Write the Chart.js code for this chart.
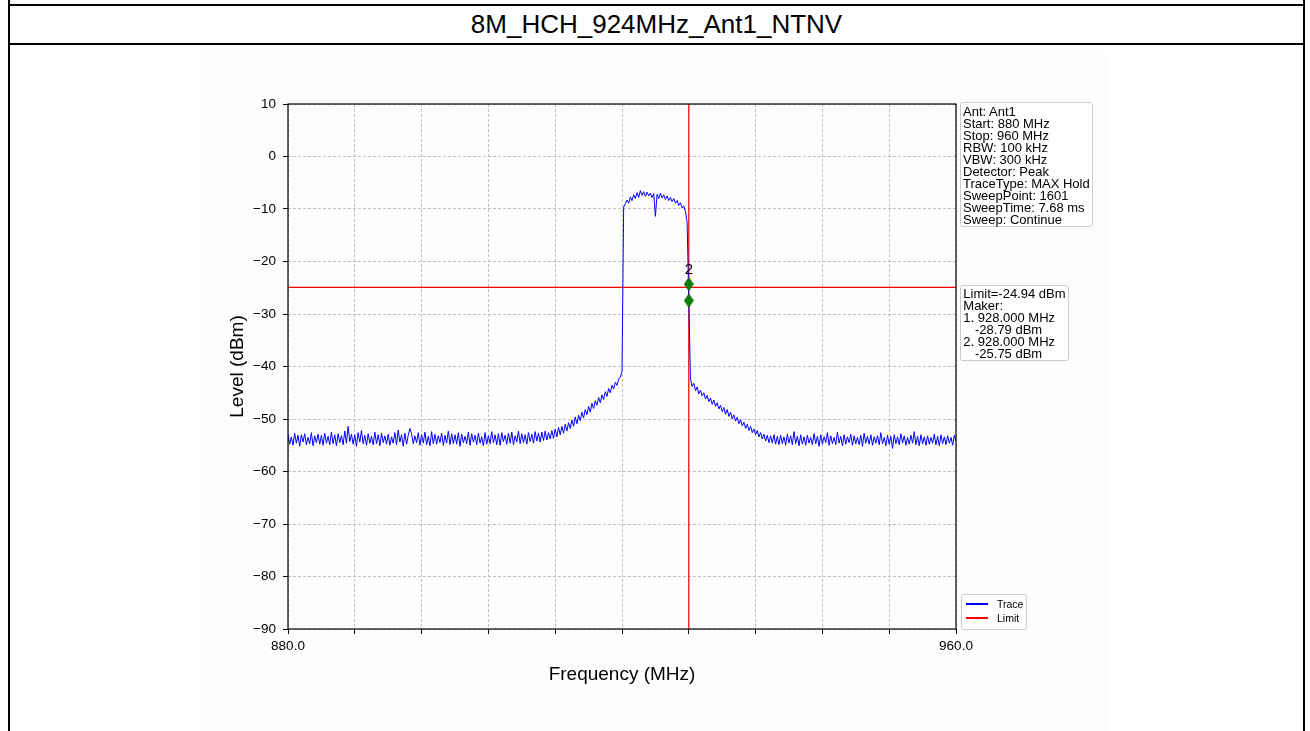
<!DOCTYPE html>
<html><head><meta charset="utf-8">
<script src="https://cdn.jsdelivr.net/npm/chart.js@4/dist/chart.umd.min.js"></script>
<style>
html,body{margin:0;padding:0;background:#fff;width:1310px;height:731px;overflow:hidden;font-family:"Liberation Sans",Arial,sans-serif;}
.hl{position:absolute;left:8px;width:1297px;height:2px;background:#000;}
.vl{position:absolute;top:0;width:2px;height:731px;background:#000;}
#title{position:absolute;left:10px;width:1293px;top:6px;height:37px;line-height:37px;text-align:center;font-size:26px;color:#000;}
#fig{position:absolute;left:202px;top:50px;width:906px;height:681px;background:#fdfdfd;}
#cv{position:absolute;left:202px;top:50px;}
.box{position:absolute;box-sizing:border-box;border:1px solid #cccccc;border-radius:3px;background:#fff;font-size:13px;line-height:12px;color:#000;white-space:pre;}
.ind{padding-left:11.7px;}
.lg{position:absolute;height:1.4px;width:22px;}
.lt{position:absolute;font-size:10.5px;line-height:14px;}
</style></head><body>
<div class="hl" style="top:4px"></div>
<div class="hl" style="top:43px"></div>
<div class="vl" style="left:8px"></div>
<div class="vl" style="left:1303px"></div>
<div id="title">8M_HCH_924MHz_Ant1_NTNV</div>
<div id="fig"></div>
<canvas id="cv" width="906" height="681"></canvas>
<div class="box" style="left:960px;top:102px;width:133px;height:125px;padding:3px 0 0 2px;">Ant: Ant1
Start: 880 MHz
Stop: 960 MHz
RBW: 100 kHz
VBW: 300 kHz
Detector: Peak
TraceType: MAX Hold
SweepPoint: 1601
SweepTime: 7.68 ms
Sweep: Continue</div>
<div class="box" style="left:960px;top:285px;width:109px;height:76px;padding:1.8px 0 0 2.3px;"><div>Limit=-24.94 dBm</div><div>Maker:</div><div>1. 928.000 MHz</div><div class="ind">-28.79 dBm</div><div>2. 928.000 MHz</div><div class="ind">-25.75 dBm</div></div>
<div class="box" style="left:961px;top:594px;width:66px;height:36px;">
  <div class="lg" style="left:4px;top:8.3px;background:#0000ff"></div>
  <div class="lt" style="left:35px;top:2px">Trace</div>
  <div class="lg" style="left:4px;top:22.3px;background:#ff0000"></div>
  <div class="lt" style="left:35px;top:16px">Limit</div>
</div>
<script>
// ---- data ----
const startMHz = 880, stopMHz = 960, stepMHz = 0.2;
const traceLevels = [
-52.9,-54.8,-53.4,-55.0,-52.7,-54.6,-53.1,-55.2,-53.0,-54.4,
-52.8,-54.9,-53.5,-54.7,-52.6,-55.1,-53.2,-54.5,-52.9,-54.8,
-53.1,-55.0,-52.7,-54.6,-53.3,-54.9,-52.5,-54.7,-53.0,-55.1,
-52.8,-54.5,-53.2,-54.9,-52.3,-54.6,-51.4,-54.3,-52.9,-54.8,
-53.0,-55.2,-52.6,-54.4,-52.2,-54.7,-53.1,-55.0,-52.8,-54.6,
-53.3,-54.9,-52.5,-54.7,-53.0,-55.1,-52.7,-54.5,-53.2,-54.8,
-52.9,-55.0,-53.4,-54.6,-52.6,-54.9,-52.1,-54.4,-53.0,-55.2,
-52.7,-54.8,-53.1,-51.8,-52.8,-54.7,-53.2,-54.5,-52.6,-55.0,
-53.0,-54.6,-52.5,-54.9,-53.3,-55.1,-52.4,-54.7,-52.9,-54.8,
-53.2,-54.5,-52.7,-55.0,-53.1,-54.6,-52.3,-54.9,-52.8,-54.7,
-53.0,-54.8,-52.6,-55.2,-52.9,-54.5,-53.3,-54.7,-52.5,-55.0,
-52.8,-54.4,-53.1,-54.9,-52.7,-54.6,-53.4,-55.1,-52.6,-54.8,
-53.2,-54.7,-52.4,-54.5,-53.0,-54.9,-52.8,-55.0,-52.6,-54.3,
-53.1,-54.8,-52.7,-54.6,-52.5,-54.9,-53.2,-54.4,-52.3,-54.7,
-52.8,-54.5,-53.0,-54.8,-52.6,-54.3,-52.9,-54.6,-52.4,-54.2,
-52.7,-54.4,-52.5,-54.1,-52.3,-54.0,-52.6,-53.8,-52.2,-53.7,
-51.9,-53.4,-51.6,-53.0,-51.4,-52.7,-51.0,-52.3,-50.7,-51.8,
-50.2,-51.4,-49.6,-50.9,-49.3,-50.3,-48.7,-49.8,-48.2,-49.2,
-47.6,-48.7,-47.0,-48.0,-46.5,-47.4,-45.9,-46.9,-45.4,-46.3,
-44.8,-45.7,-44.2,-45.0,-43.6,-44.3,-43.0,-43.6,-42.4,-42.0,
-41.0,-9.6,-9.0,-8.3,-8.9,-7.7,-8.4,-7.3,-8.0,-6.9,
-7.8,-6.5,-7.4,-6.7,-7.6,-6.8,-7.5,-7.0,-7.8,-7.1,
-11.4,-7.2,-8.0,-7.0,-7.9,-7.3,-8.2,-7.5,-8.4,-7.8,
-8.6,-8.0,-8.9,-8.4,-9.3,-8.8,-9.8,-9.4,-10.5,-12.5,
-27.5,-42.4,-43.8,-43.2,-44.6,-43.9,-45.2,-44.5,-45.6,-45.0,
-46.2,-45.5,-46.7,-46.0,-47.2,-46.4,-47.6,-46.9,-48.1,-47.4,
-48.6,-47.8,-49.1,-48.2,-49.5,-48.7,-50.0,-49.2,-50.4,-49.7,
-50.9,-50.1,-51.3,-50.6,-51.8,-51.0,-52.2,-51.4,-52.6,-51.9,
-53.0,-52.2,-53.4,-52.6,-53.8,-52.9,-54.2,-53.1,-54.5,-53.2,
-54.6,-53.0,-54.8,-53.3,-54.9,-53.1,-54.7,-53.4,-55.0,-52.9,
-54.6,-53.2,-54.9,-52.4,-54.7,-53.3,-55.1,-53.0,-54.8,-53.4,
-55.0,-53.1,-54.6,-53.5,-54.9,-52.8,-54.7,-53.3,-55.2,-53.0,
-54.8,-53.4,-54.5,-52.6,-55.0,-53.2,-54.7,-53.5,-54.9,-52.5,
-54.6,-53.3,-55.1,-53.0,-54.8,-53.4,-54.5,-52.9,-55.0,-53.2,
-54.7,-53.5,-54.9,-53.1,-55.2,-52.7,-54.6,-53.3,-54.8,-53.0,
-55.0,-53.4,-54.6,-53.2,-54.9,-52.6,-54.7,-53.5,-55.1,-53.1,
-54.8,-53.3,-55.6,-53.0,-54.7,-53.4,-54.9,-52.8,-54.6,-53.2,
-55.0,-53.5,-54.8,-53.1,-54.6,-52.4,-54.9,-53.3,-55.1,-53.0,
-54.7,-53.4,-55.0,-53.2,-54.8,-53.5,-54.6,-52.9,-54.9,-53.3,
-55.1,-53.0,-54.7,-53.4,-54.9,-53.2,-54.6,-53.5,-55.0,-53.1,
-54.2
];
const limitLevel = -24.94;
const markerFreqs = [928.0, 928.0];
const markerLevels = [-24.3, -27.45];
const markerLabels = ['2', ''];
const cursorFreq = 928.0;
const yMin = -90, yMax = 10;
const xTickValues = [880, 888, 896, 904, 912, 920, 928, 936, 944, 952, 960];
const xTickLabels = ['880.0', '', '', '', '', '', '', '', '', '', '960.0'];
const yTickValues = [-90, -80, -70, -60, -50, -40, -30, -20, -10, 0, 10];
const yTickLabels = ['\u221290', '\u221280', '\u221270', '\u221260', '\u221250', '\u221240', '\u221230', '\u221220', '\u221210', '0', '10'];

// ---- chart ----
const FONT = '"Liberation Sans", Arial, sans-serif';
const traceFreqs = traceLevels.map((_, i) => startMHz + i * stepMHz);

const diamond = document.createElement('canvas');
diamond.width = 10; diamond.height = 14;
(function(){const d = diamond.getContext('2d'); d.fillStyle = '#0a7d0a'; d.strokeStyle = '#066306'; d.lineWidth = 0.8; d.beginPath();
 d.moveTo(5, 0.5); d.lineTo(9.5, 7); d.lineTo(5, 13.5); d.lineTo(0.5, 7); d.closePath(); d.fill(); d.stroke();})();

const framePlugin = {
  id: 'frame',
  afterDatasetsDraw(chart) {
    const {ctx, chartArea: a} = chart;
    ctx.save();
    ctx.strokeStyle = '#000'; ctx.lineWidth = 1.2;
    ctx.strokeRect(a.left, a.top, a.right - a.left, a.bottom - a.top);
    const meta = chart.getDatasetMeta(0);
    ctx.fillStyle = '#000'; ctx.font = '15px ' + FONT;
    ctx.textAlign = 'center'; ctx.textBaseline = 'middle';
    meta.data.forEach((pt, i) => { if (markerLabels[i]) ctx.fillText(markerLabels[i], pt.x, pt.y - 14); });
    ctx.restore();
  }
};

const gridCommon = {color: '#b0b0b0', lineWidth: 0.8, tickLength: 5, tickColor: '#000', tickWidth: 1};

new Chart(document.getElementById('cv'), {
  type: 'line',
  data: {
    datasets: [
      {label: 'Marker', data: markerFreqs.map((f, i) => ({x: f, y: markerLevels[i]})), showLine: false,
       pointStyle: diamond, pointRadius: 7, borderWidth: 0},
      {label: 'Trace', data: traceFreqs.map((f, i) => ({x: f, y: traceLevels[i]})), borderColor: '#0000ff',
       borderWidth: 1, pointRadius: 0, tension: 0},
      {label: 'Limit', data: [{x: startMHz, y: limitLevel}, {x: stopMHz, y: limitLevel}], borderColor: '#ff0000',
       borderWidth: 1.2, pointRadius: 0},
      {label: 'Cursor', data: [{x: cursorFreq, y: yMin}, {x: cursorFreq, y: yMax}], borderColor: '#ff0000',
       borderWidth: 1.2, pointRadius: 0}
    ]
  },
  options: {
    responsive: false, animation: false, devicePixelRatio: 1,
    layout: {padding: {left: 20, top: 54, right: 152, bottom: 42}},
    plugins: {legend: {display: false}, tooltip: {enabled: false}},
    scales: {
      x: {
        type: 'linear', min: startMHz, max: stopMHz,
        afterBuildTicks: s => { s.ticks = xTickValues.map(v => ({value: v})); },
        afterFit: s => { s.height = 60; s.paddingLeft = 0; s.paddingRight = 0; },
        ticks: {callback: (v, i) => xTickLabels[i], color: '#000', font: {size: 13.5, family: FONT}, padding: 4, maxRotation: 0, autoSkip: false},
        grid: gridCommon,
        border: {display: false, dash: [3, 2]},
        title: {display: true, text: 'Frequency (MHz)', color: '#000', font: {size: 19, family: FONT}, padding: {top: 0, bottom: 3}}
      },
      y: {
        type: 'linear', min: yMin, max: yMax,
        afterBuildTicks: s => { s.ticks = yTickValues.map(v => ({value: v})); },
        afterFit: s => { s.width = 66; s.paddingTop = 0; s.paddingBottom = 0; },
        ticks: {callback: (v, i) => yTickLabels[i], color: '#000', font: {size: 13.5, family: FONT}, padding: 7, autoSkip: false},
        grid: gridCommon,
        border: {display: false, dash: [3, 2]},
        title: {display: true, text: 'Level (dBm)', color: '#000', font: {size: 19, family: FONT}, padding: {top: 4, bottom: 0}}
      }
    }
  },
  plugins: [framePlugin]
});
</script>
</body></html>
